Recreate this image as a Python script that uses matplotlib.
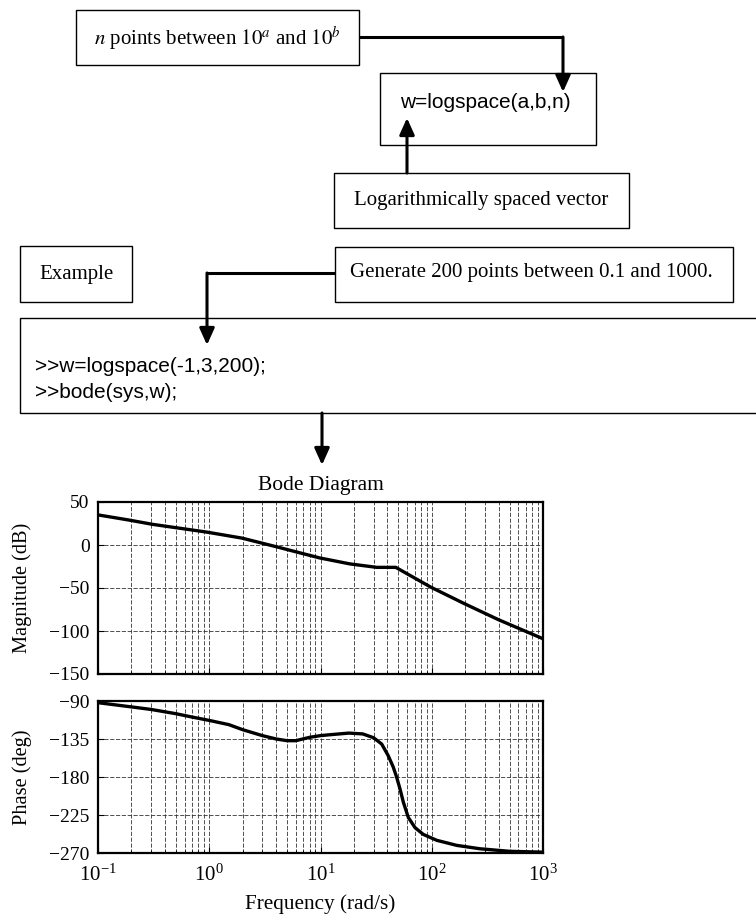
import matplotlib.pyplot as plt
from matplotlib.patches import Rectangle
from matplotlib.ticker import LogLocator, NullFormatter

plt.rcParams['font.family'] = 'Liberation Serif'
plt.rcParams['mathtext.fontset'] = 'stix'

# magnitude curve (rad/s, dB)
mag_w = [0.1, 0.19, 0.31, 0.95, 1.97, 4.0, 9.8, 18.4, 32, 47.5, 98, 195, 400, 1000]
mag_db = [35, 29, 24, 15, 8, -2, -15, -22, -26, -26, -49, -68, -87, -109]

# phase curve (rad/s, deg)
ph_w = [0.1, 0.2, 0.3, 0.5, 0.7, 1, 1.5, 2, 3, 4, 5, 6, 8, 10, 12, 18, 24, 30, 35.5,
        40.7, 45, 48.3, 51.8, 55.6, 61.6, 70.8, 84, 111, 168, 272, 500, 1000]
ph_deg = [-92, -97, -100, -105, -109, -113, -118, -124, -131, -135, -137, -137, -133,
          -131, -130, -128, -129, -133.5, -141, -155, -168, -180, -194, -210,
          -228, -240, -248, -255, -261, -265, -268, -269]

mag_ticks = [-150, -100, -50, 0, 50]
ph_ticks = [-270, -225, -180, -135, -90]

fig = plt.figure(figsize=(7.56, 9.17), dpi=100)

# overlay in pixel coordinates for the boxes and arrows
ax0 = fig.add_axes([0, 0, 1, 1])
ax0.set_xlim(0, 756)
ax0.set_ylim(917, 0)
ax0.axis('off')


def box(x0, y0, x1, y1):
    ax0.add_patch(Rectangle((x0, y0), x1 - x0, y1 - y0, fill=False, lw=1.0, ec='k'))


def link(pts):
    xs = [p[0] for p in pts[:-1]]
    ys = [p[1] for p in pts[:-1]]
    if len(xs) > 1:
        ax0.plot(xs, ys, color='k', lw=2.2, solid_joinstyle='miter', solid_capstyle='butt')
    ax0.annotate('', xy=pts[-1], xytext=pts[-2],
                 arrowprops=dict(arrowstyle='-|>,head_length=1.0,head_width=0.45',
                                 mutation_scale=10, lw=2.2, color='k',
                                 shrinkA=0, shrinkB=0))


box(76, 10, 359, 65)
ax0.text(217, 38, r'$n$ points between $10^a$ and $10^b$', ha='center', va='center', fontsize=15)

box(380, 73, 596, 145)
ax0.text(400, 103, 'w=logspace(a,b,n)', ha='left', va='center', fontsize=15,
         family='Liberation Sans')

box(334, 173, 629, 228)
ax0.text(481, 201, 'Logarithmically spaced vector', ha='center', va='center', fontsize=15)

link([(359, 37), (563, 37), (563, 92)])
link([(407, 173), (407, 118)])

box(20, 246, 132, 302)
ax0.text(76, 274, 'Example', ha='center', va='center', fontsize=15)

box(335, 247, 733, 302)
ax0.text(531, 273, 'Generate 200 points between 0.1 and 1000.', ha='center', va='center',
         fontsize=15)

box(20, 318, 770, 413)
ax0.text(35, 367, '>>w=logspace(-1,3,200);', ha='left', va='center', fontsize=15,
         family='Liberation Sans')
ax0.text(35, 393, '>>bode(sys,w);', ha='left', va='center', fontsize=15,
         family='Liberation Sans')

link([(335, 273), (207, 273), (207, 345)])
link([(322, 413), (322, 465)])

# Bode axes
axm = fig.add_axes([98 / 756, 1 - 674 / 917, 445 / 756, 172 / 917])
axp = fig.add_axes([98 / 756, 1 - 853 / 917, 445 / 756, 152 / 917])

axm.semilogx(mag_w, mag_db, color='k', lw=2.4)
axp.semilogx(ph_w, ph_deg, color='k', lw=2.4)

axm.set_ylim(-150, 50)
axm.set_yticks(mag_ticks)
axp.set_ylim(-270, -90)
axp.set_yticks(ph_ticks)

for ax in (axm, axp):
    ax.set_xlim(0.1, 1000)
    ax.xaxis.set_major_locator(LogLocator(base=10, numticks=10))
    ax.xaxis.set_minor_locator(LogLocator(base=10, subs=range(2, 10), numticks=10))
    ax.xaxis.set_minor_formatter(NullFormatter())
    ax.grid(which='major', color='0.2', lw=0.6, ls=(0, (5, 2)))
    ax.grid(which='minor', axis='x', color='0.2', lw=0.6, ls=(0, (5, 2)))
    ax.tick_params(which='both', direction='in', labelsize=14, pad=6)
    ax.tick_params(axis='x', which='both', labelsize=15, pad=8)
    ax.tick_params(which='major', length=4)
    ax.tick_params(which='minor', length=2)
    for s in ax.spines.values():
        s.set_linewidth(1.6)

axm.tick_params(labelbottom=False)

axm.set_title('Bode Diagram', fontsize=15.5, pad=8.6)
axm.set_ylabel('Magnitude (dB)', fontsize=14.7)
axm.yaxis.set_label_coords(-0.148, 0.5)
axp.set_ylabel('Phase (deg)', fontsize=14.7)
axp.yaxis.set_label_coords(-0.148, 0.5)
axp.set_xlabel('Frequency (rad/s)', fontsize=15.3)
axp.xaxis.set_label_coords(0.5, -0.27)

plt.savefig('out.png', dpi=100)
